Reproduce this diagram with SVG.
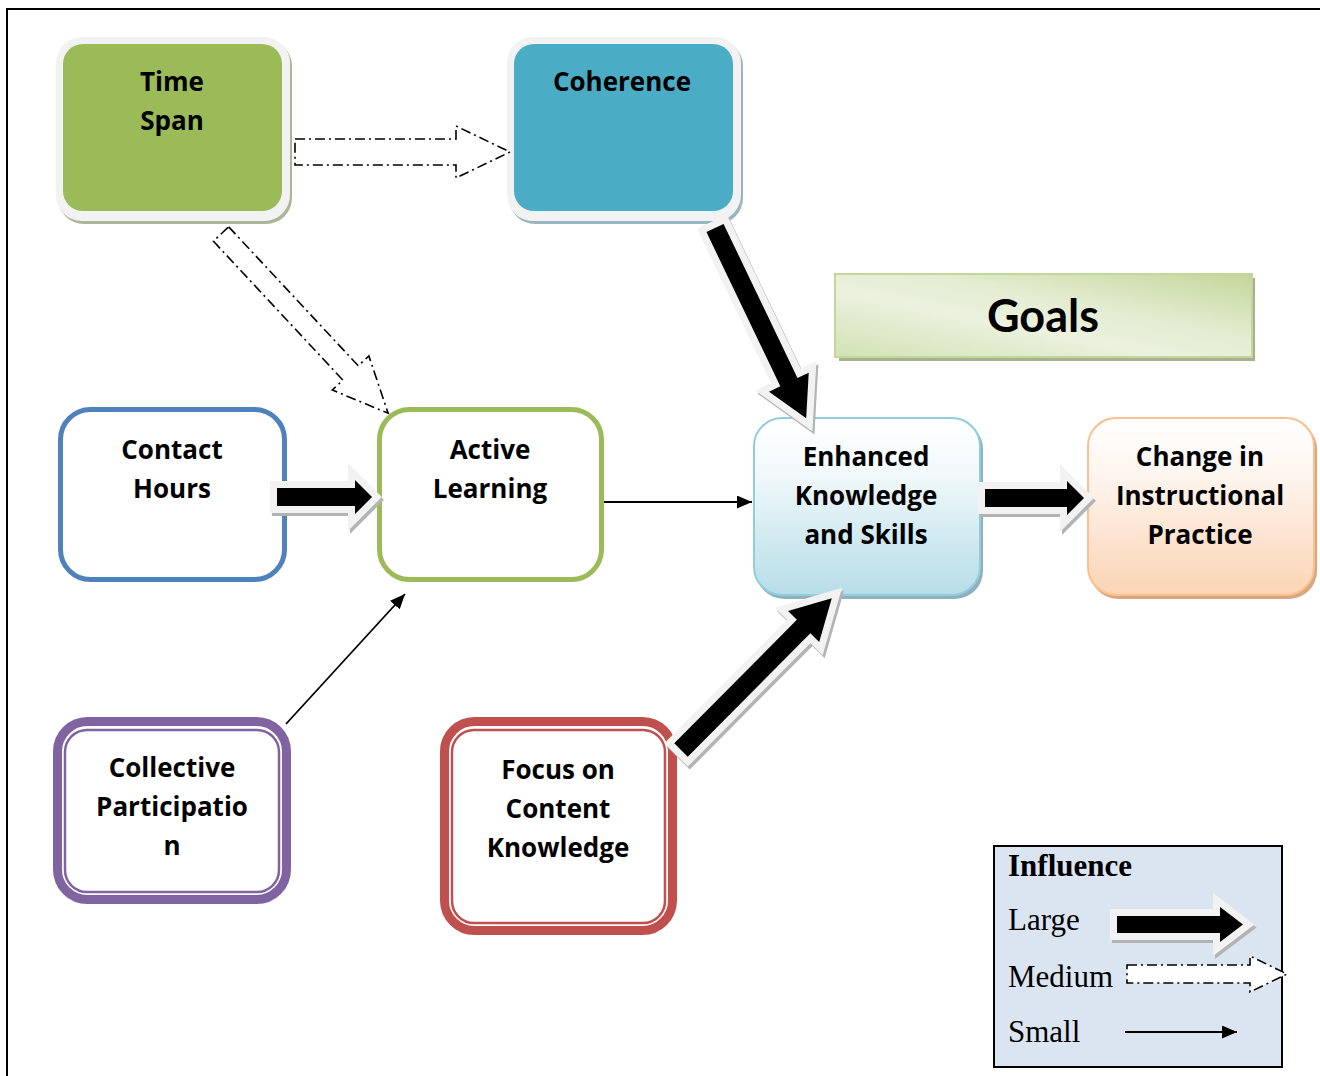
<svg xmlns="http://www.w3.org/2000/svg" width="1320" height="1076" viewBox="0 0 1320 1076">
<defs>
<style>
.lbl{font-family:"Open Sans",Lato,"Liberation Sans",sans-serif;font-weight:700;font-size:26px;fill:#000;text-anchor:middle}
.goal{font-family:Lato,"Open Sans","Liberation Sans",sans-serif;font-weight:700;font-size:45px;fill:#000;text-anchor:middle}
.leg{font-family:"Liberation Serif","Times New Roman",serif;font-size:31px;fill:#000}
.big{fill:#000;stroke:#f2f2f2;stroke-width:14;paint-order:stroke;stroke-linejoin:miter}
.bigsh{fill:#b3b3b3;stroke:#b3b3b3;stroke-width:14;stroke-linejoin:miter}
.med{fill:#fff;stroke:#000;stroke-width:1.6;stroke-dasharray:10 4 2 4}
.small{fill:none;stroke:#000;stroke-width:1.8;marker-end:url(#ah)}
</style>
<marker id="ah" markerUnits="userSpaceOnUse" markerWidth="15" markerHeight="13" refX="15" refY="6.5" orient="auto"><path d="M0,0 L15,6.5 L0,13 Z" fill="#000"/></marker>
<linearGradient id="gEnh" x1="0" y1="0" x2="0" y2="1"><stop offset="0" stop-color="#ffffff"/><stop offset="0.3" stop-color="#f2f9fb"/><stop offset="1" stop-color="#b6dde8"/></linearGradient>
<linearGradient id="gChg" x1="0" y1="0" x2="0" y2="1"><stop offset="0" stop-color="#ffffff"/><stop offset="0.3" stop-color="#fef6f0"/><stop offset="1" stop-color="#fbd4b4"/></linearGradient>
<linearGradient id="gGoal" x1="0" y1="1" x2="1" y2="0"><stop offset="0" stop-color="#d2e2b4"/><stop offset="0.4" stop-color="#ebf1de"/><stop offset="0.6" stop-color="#e4edd2"/><stop offset="1" stop-color="#c3d69b"/></linearGradient>
<polygon id="aH1" points="0,-9 78,-9 78,-17 95,0 78,17 78,9 0,9"/>
<polygon id="aH2" points="0,-9 82,-9 82,-17 99,0 82,17 82,9 0,9"/>
<polygon id="aLg" points="0,-8.5 103,-8.5 103,-17.5 126,0 103,17.5 103,8.5 0,8.5"/>
<polygon id="aD1" points="0,-9.5 171,-9.5 171,-22 211,0 171,22 171,9.5 0,9.5"/>
<polygon id="aD2" points="0,-9.5 174,-9.5 174,-22 214,0 174,22 174,9.5 0,9.5"/>
</defs>

<rect width="1320" height="1076" fill="#fff"/>
<path d="M7,1076 V9 H1320" fill="none" stroke="#000" stroke-width="2"/>

<g id="node-timespan">
<rect x="58" y="40" width="234" height="184" rx="26" fill="#abb698"/>
<rect x="56" y="37" width="234" height="184" rx="26" fill="#f2f2f2"/>
<rect x="63" y="44" width="219" height="167" rx="20" fill="#9bbb59"/>
<text class="lbl" x="172" y="91">Time</text>
<text class="lbl" x="172" y="130">Span</text>
</g>

<g id="node-coherence">
<rect x="509" y="40" width="234" height="184" rx="26" fill="#98b6c2"/>
<rect x="507" y="37" width="234" height="184" rx="26" fill="#f2f2f2"/>
<rect x="514" y="44" width="219" height="167" rx="20" fill="#4bacc6"/>
<text class="lbl" x="622" y="91">Coherence</text>
</g>

<g id="node-goals">
<rect x="839" y="278" width="416" height="83" fill="#a7b18f"/>
<rect x="835" y="274" width="417" height="83" fill="url(#gGoal)" stroke="#c3d69b" stroke-width="2"/>
<text class="goal" x="1043" y="332">Goals</text>
</g>

<g id="node-contact">
<rect x="60.5" y="409.5" width="224" height="170" rx="30" fill="#fff" stroke="#4f81bd" stroke-width="5"/>
<text class="lbl" x="172" y="459">Contact</text>
<text class="lbl" x="172" y="498">Hours</text>
</g>

<g id="node-active">
<rect x="379.5" y="409.5" width="222" height="170" rx="30" fill="#fff" stroke="#9bbb59" stroke-width="5"/>
<text class="lbl" x="490" y="459">Active</text>
<text class="lbl" x="490" y="498">Learning</text>
</g>

<g id="node-enhanced">
<rect x="756" y="421" width="227" height="178" rx="28" fill="#8fb0bd"/>
<rect x="754" y="418" width="226" height="177" rx="28" fill="url(#gEnh)" stroke="#92cddc" stroke-width="2"/>
<text class="lbl" x="866" y="466">Enhanced</text>
<text class="lbl" x="866" y="505">Knowledge</text>
<text class="lbl" x="866" y="544">and Skills</text>
</g>

<g id="node-change">
<rect x="1090" y="421" width="227" height="178" rx="28" fill="#d6a882"/>
<rect x="1088" y="418" width="226" height="177" rx="28" fill="url(#gChg)" stroke="#fac08f" stroke-width="2"/>
<text class="lbl" x="1200" y="466">Change in</text>
<text class="lbl" x="1200" y="505">Instructional</text>
<text class="lbl" x="1200" y="544">Practice</text>
</g>

<g id="node-collective">
<rect x="57.5" y="721.5" width="229" height="178" rx="30" fill="#fff" stroke="#8064a2" stroke-width="9"/>
<rect x="65" y="730" width="214" height="162" rx="22" fill="none" stroke="#8064a2" stroke-width="2.5"/>
<text class="lbl" x="172" y="777">Collective</text>
<text class="lbl" x="172" y="816">Participatio</text>
<text class="lbl" x="172" y="855">n</text>
</g>

<g id="node-focus">
<rect x="444.5" y="721.5" width="228" height="209" rx="30" fill="#fff" stroke="#c0504d" stroke-width="9"/>
<rect x="452" y="730" width="213" height="193" rx="22" fill="none" stroke="#c0504d" stroke-width="2.5"/>
<text class="lbl" x="558" y="779">Focus on</text>
<text class="lbl" x="558" y="818">Content</text>
<text class="lbl" x="558" y="857">Knowledge</text>
</g>

<g id="connectors">
<polygon class="med" points="295,139 456,139 456,126 510,152 456,178 456,165 295,165"/>
<g transform="translate(221,234) rotate(47)"><polygon class="med" points="0,-10.5 190,-10.5 190,-25 245,0 190,25 190,10.5 0,10.5"/></g>

<use href="#aD1" class="bigsh" transform="translate(717,231) rotate(64.4)"/>
<use href="#aD1" class="big" transform="translate(715,228) rotate(64.4)"/>

<use href="#aH1" class="bigsh" transform="translate(279,500)"/>
<use href="#aH1" class="big" transform="translate(277,497)"/>

<use href="#aH2" class="bigsh" transform="translate(987,501)"/>
<use href="#aH2" class="big" transform="translate(985,498)"/>

<use href="#aD2" class="bigsh" transform="translate(683,753) rotate(-45.2)"/>
<use href="#aD2" class="big" transform="translate(681,750) rotate(-45.2)"/>

<line class="small" x1="604" y1="502" x2="752" y2="502"/>
<line class="small" x1="286" y1="724" x2="405" y2="594"/>
</g>

<g id="legend">
<rect x="994" y="846" width="288" height="221" fill="#dbe5f1" stroke="#000" stroke-width="2"/>
<text class="leg" x="1008" y="876" font-weight="700">Influence</text>
<text class="leg" x="1008" y="930">Large</text>
<text class="leg" x="1008" y="987">Medium</text>
<text class="leg" x="1008" y="1042">Small</text>
<use href="#aLg" class="bigsh" transform="translate(1119,927.5)"/>
<use href="#aLg" class="big" transform="translate(1117,924.5)"/>
<polygon class="med" points="1127,965 1250,965 1250,956 1287,974 1250,992 1250,983 1127,983"/>
<line class="small" x1="1125" y1="1032" x2="1237" y2="1032"/>
</g>
</svg>
